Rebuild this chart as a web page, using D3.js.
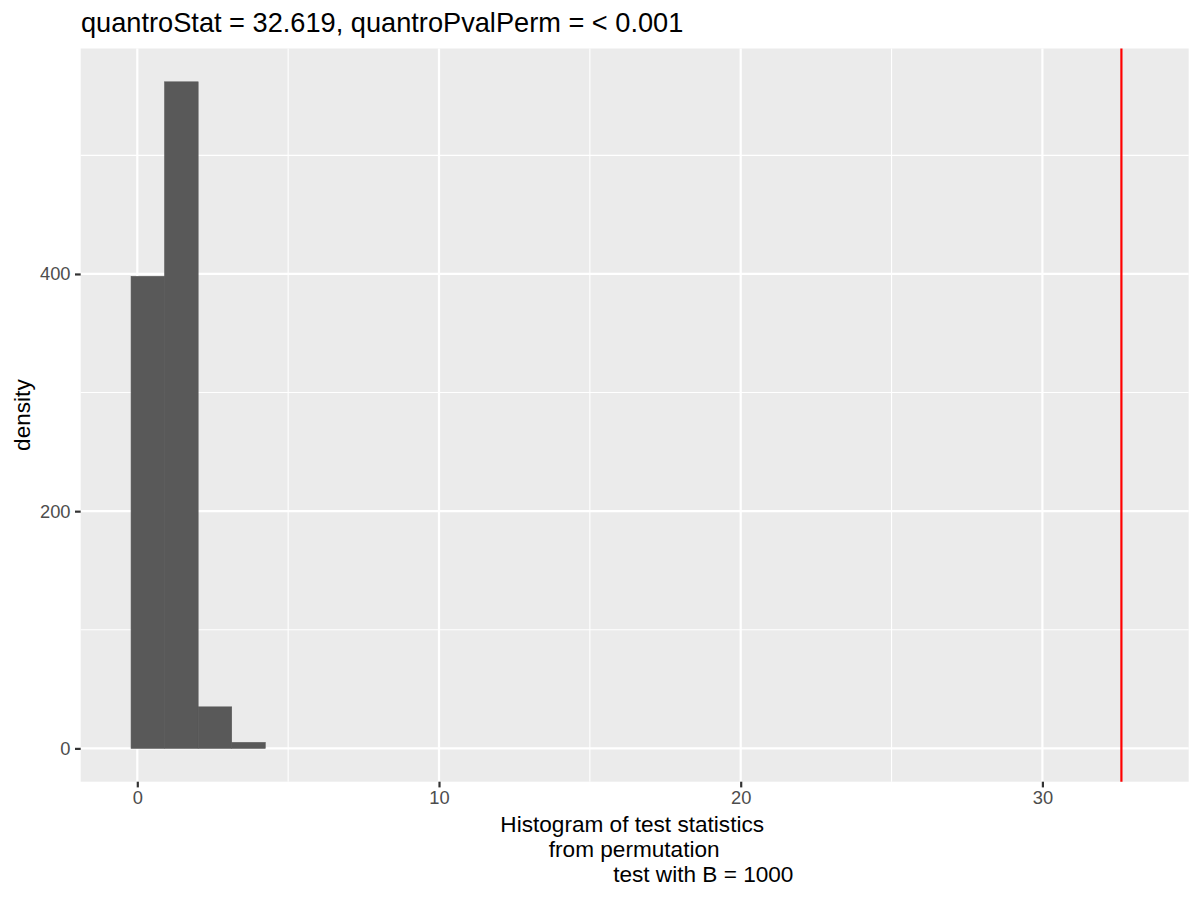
<!DOCTYPE html>
<html>
<head>
<meta charset="utf-8">
<script src="https://cdn.jsdelivr.net/npm/d3@7"></script>
<style>
  html, body { margin: 0; padding: 0; background: #ffffff; }
  svg { display: block; font-family: "Liberation Sans", Arial, Helvetica, sans-serif; }
</style>
</head>
<body>
<svg id="chart" width="1200" height="900"></svg>
<script>
// ---- data ----
const binLeft  = [-0.207, 0.905, 2.017, 3.129];
const binRight = [0.905, 2.017, 3.129, 4.241];
const binCounts = [398, 562, 35, 5];
const xRangeData = [-0.207, 33.18];      // range covered by histogram bins
const quantroStat = 32.619;
const xTicksMajor = [0, 10, 20, 30];
const xTicksMinor = [5, 15, 25];
const yTicksMajor = [0, 200, 400];
const yTicksMinor = [100, 300, 500];
const titleText = "quantroStat = 32.619, quantroPvalPerm = < 0.001";
const xLabelLines = ["Histogram of test statistics", "from permutation", "test with B = 1000"];
const yLabelText = "density";

// ---- layout ----
const svg = d3.select("#chart");
const panel = { left: 80.7, right: 1188.7, top: 48.5, bottom: 781.7 };

const xSpan = xRangeData[1] - xRangeData[0];
const x = d3.scaleLinear()
  .domain([xRangeData[0] - 0.05 * xSpan, xRangeData[1] + 0.05 * xSpan])
  .range([panel.left, panel.right]);
const yMax = d3.max(binCounts);
const y = d3.scaleLinear()
  .domain([-0.05 * yMax, yMax * 1.05])
  .range([panel.bottom, panel.top]);

// panel background
svg.append("rect")
  .attr("x", panel.left).attr("y", panel.top)
  .attr("width", panel.right - panel.left)
  .attr("height", panel.bottom - panel.top)
  .attr("fill", "#EBEBEB");

const grid = svg.append("g");
// minor grid
grid.selectAll(".xminor").data(xTicksMinor).enter().append("line")
  .attr("x1", d => x(d)).attr("x2", d => x(d))
  .attr("y1", panel.top).attr("y2", panel.bottom)
  .attr("stroke", "#ffffff").attr("stroke-width", 1.1);
grid.selectAll(".yminor").data(yTicksMinor).enter().append("line")
  .attr("y1", d => y(d)).attr("y2", d => y(d))
  .attr("x1", panel.left).attr("x2", panel.right)
  .attr("stroke", "#ffffff").attr("stroke-width", 1.1);
// major grid
grid.selectAll(".xmajor").data(xTicksMajor).enter().append("line")
  .attr("x1", d => x(d)).attr("x2", d => x(d))
  .attr("y1", panel.top).attr("y2", panel.bottom)
  .attr("stroke", "#ffffff").attr("stroke-width", 2.2);
grid.selectAll(".ymajor").data(yTicksMajor).enter().append("line")
  .attr("y1", d => y(d)).attr("y2", d => y(d))
  .attr("x1", panel.left).attr("x2", panel.right)
  .attr("stroke", "#ffffff").attr("stroke-width", 2.2);

// bars
const bins = binCounts.map((c, i) => ({ x0: binLeft[i], x1: binRight[i], count: c }));
svg.append("g").selectAll("rect").data(bins).enter().append("rect")
  .attr("x", d => x(d.x0))
  .attr("width", d => x(d.x1) - x(d.x0))
  .attr("y", d => y(d.count))
  .attr("height", d => y(0) - y(d.count))
  .attr("fill", "#595959")
  .attr("stroke", "#595959")
  .attr("stroke-width", 0.6);

// vertical line at observed stat
svg.append("line")
  .attr("x1", x(quantroStat)).attr("x2", x(quantroStat))
  .attr("y1", panel.top).attr("y2", panel.bottom)
  .attr("stroke", "#FF0000").attr("stroke-width", 2.2);

// axes
const xAxis = d3.axisBottom(x).tickValues(xTicksMajor).tickSize(5.7).tickPadding(4).tickFormat(d3.format("d"));
const gx = svg.append("g").attr("transform", `translate(0,${panel.bottom})`).call(xAxis);
gx.select(".domain").remove();
gx.selectAll(".tick line").attr("stroke", "#333333").attr("stroke-width", 2.2);
gx.selectAll(".tick text").attr("fill", "#4D4D4D").style("font-size", "18.3px")
  .style("font-family", "'Liberation Sans', Arial, sans-serif");

const yAxis = d3.axisLeft(y).tickValues(yTicksMajor).tickSize(5.7).tickPadding(4.5).tickFormat(d3.format("d"));
const gy = svg.append("g").attr("transform", `translate(${panel.left},0)`).call(yAxis);
gy.select(".domain").remove();
gy.selectAll(".tick line").attr("stroke", "#333333").attr("stroke-width", 2.2);
gy.selectAll(".tick text").attr("fill", "#4D4D4D").style("font-size", "18.3px")
  .style("font-family", "'Liberation Sans', Arial, sans-serif");

// title
svg.append("text")
  .attr("x", 81).attr("y", 32)
  .attr("fill", "#000000")
  .style("font-size", "27.2px")
  .text(titleText);

// y label
svg.append("text")
  .attr("transform", `translate(29.5,${(panel.top + panel.bottom) / 2}) rotate(-90)`)
  .attr("text-anchor", "middle")
  .attr("fill", "#000000")
  .style("font-size", "22.6px")
  .text(yLabelText);

// x label (three lines, offsets as in reference)
const xLabelCenters = [632.2, 634.2, 703.3];
const xLabelBaselines = [832, 856.7, 881.7];
svg.append("g").selectAll("text").data(xLabelLines).enter().append("text")
  .attr("x", (d, i) => xLabelCenters[i])
  .attr("y", (d, i) => xLabelBaselines[i])
  .attr("text-anchor", "middle")
  .attr("fill", "#000000")
  .style("font-size", "22.6px")
  .text(d => d);
</script>
</body>
</html>
